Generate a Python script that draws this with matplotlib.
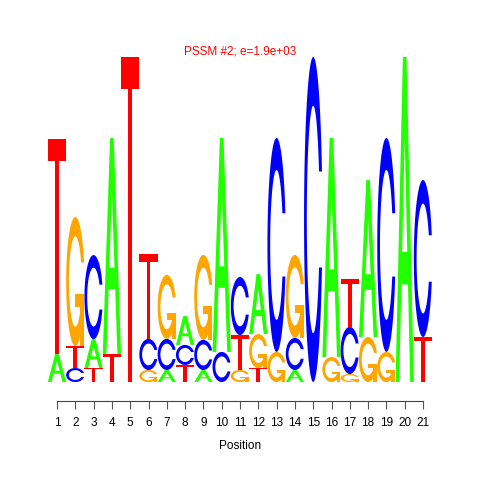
import numpy as np
import matplotlib
matplotlib.use("Agg")
import matplotlib.pyplot as plt
from matplotlib.patches import Polygon

plt.rcParams["font.family"] = ["Liberation Sans", "DejaVu Sans"]

# ---------------- Data (bits per letter, per position) ----------------
positions = list(range(1, 22))
bits_A = [0.172, 0.0, 0.178, 1.329, 0.0, 0.0, 0.074, 0.178, 0.074, 1.317, 0.0,
          0.369, 0.0, 0.074, 0.0, 1.348, 0.0, 0.966, 0.0, 2.0, 0.0]
bits_C = [0.0, 0.086, 0.517, 0.0, 0.0, 0.191, 0.191, 0.123, 0.185, 0.185, 0.357,
          0.0, 1.317, 0.197, 2.0, 0.0, 0.290, 0.0, 1.317, 0.0, 0.966]
bits_G = [0.0, 0.794, 0.0, 0.0, 0.0, 0.074, 0.394, 0.0, 0.523, 0.0, 0.074,
          0.209, 0.185, 0.511, 0.0, 0.154, 0.049, 0.277, 0.185, 0.0, 0.0]
bits_T = [1.323, 0.135, 0.086, 0.172, 2.0, 0.523, 0.0, 0.105, 0.0, 0.0, 0.215,
          0.086, 0.0, 0.0, 0.0, 0.0, 0.292, 0.0, 0.0, 0.0, 0.277]
title = "PSSM #2; e=1.9e+03"
colors = {"A": "#22ff00", "C": "#0000ff", "G": "#ffa500", "T": "#ff0000"}


# ---------------- Letter shapes (unit box) ----------------
def shape_A():
    x = np.array([0, 4, 6, 10, 8, 6.8, 3.2, 2, 0]) * 0.1
    y = np.array([0, 10, 10, 0, 0, 3, 3, 0, 0]) * 0.1
    xh = np.array([3.6, 5, 6.4, 3.6]) * 0.1
    yh = np.array([4, 7.5, 4, 4]) * 0.1
    return [(x, y, None), (xh, yh, "white")]


def ring():
    a1 = np.linspace(0.3 + np.pi / 2, np.pi, 100)
    a2 = np.linspace(np.pi, 1.5 * np.pi, 100)
    xl1 = 0.5 + 0.5 * np.sin(a1)
    yl1 = 0.5 + 0.5 * np.cos(a1)
    xl = np.concatenate([xl1, 0.5 + 0.5 * np.sin(a2)])
    yl = np.concatenate([yl1, 0.5 + 0.5 * np.cos(a2)])
    x = np.concatenate([xl, xl[::-1]])
    y = np.concatenate([yl, 1 - yl[::-1]])
    h = yl1.max()
    xi1 = 0.5 + 0.35 * np.sin(a1)
    yi1 = 0.5 + 0.35 * np.cos(a1)
    keep = yi1 <= h
    xi1, yi1 = xi1[keep], yi1[keep]
    yi1[0] = h
    xi = np.concatenate([xi1, 0.5 + 0.35 * np.sin(a2)])
    yi = np.concatenate([yi1, 0.5 + 0.35 * np.cos(a2)])
    x1 = np.concatenate([xi, xi[::-1]])
    y1 = np.concatenate([yi, 1 - yi[::-1]])
    return np.concatenate([x, x1[::-1]]), np.concatenate([y, y1[::-1]]), xl1.max()


def shape_C():
    x, y, _ = ring()
    return [(x, y, None)]


def shape_G():
    x, y, r1 = ring()
    h1 = 0.4
    xa = np.array([r1, 0.5, 0.5, r1 - 0.2, r1 - 0.2, r1, r1])
    ya = np.array([h1, h1, h1 - 0.1, h1 - 0.1, 0, 0, h1])
    return [(x, y, None), (xa, ya, None)]


def shape_T():
    x = np.array([0, 10, 10, 6, 6, 4, 4, 0]) * 0.1
    y = np.array([10, 10, 9, 9, 0, 0, 9, 9]) * 0.1
    return [(x, y, None)]


shapes = {"A": shape_A(), "C": shape_C(), "G": shape_G(), "T": shape_T()}

# ---------------- Figure ----------------
fig = plt.figure(figsize=(4.8, 4.8), dpi=100)
ax = fig.add_axes([47.85 / 480, 98 / 480, 384.3 / 480, 325 / 480])
ax.set_xlim(0.5, 21.5)
ax.set_ylim(0, 2)

for i, pos in enumerate(positions):
    col = {"A": bits_A[i], "C": bits_C[i], "G": bits_G[i], "T": bits_T[i]}
    order = sorted(col, key=lambda k: col[k])
    y0 = 0.0
    for letter in order:
        ht = col[letter]
        if ht <= 0:
            continue
        for x, y, fc in shapes[letter]:
            xy = np.column_stack([pos - 0.5 + x, y0 + ht * y])
            ax.add_patch(Polygon(xy, closed=True, facecolor=fc or colors[letter],
                                 edgecolor="none", linewidth=0))
        y0 += ht

for s in ["left", "right", "top"]:
    ax.spines[s].set_visible(False)
ax.spines["bottom"].set_position(("outward", 13.7))
ax.spines["bottom"].set_bounds(1, 21)
ax.spines["bottom"].set_color("#444444")
ax.spines["bottom"].set_linewidth(0.8)
ax.set_yticks([])
ax.set_xticks(positions)
ax.tick_params(axis="x", direction="out", length=5.5, width=0.8, color="#555555",
               labelsize=8.5, pad=6)
ax.set_xlabel("Position", fontsize=8.5, labelpad=8)

fig.text(240 / 480, 1 - 52 / 480, title, color="red", fontsize=8.5,
         ha="center", va="center")

fig.savefig("out.png", dpi=100)
